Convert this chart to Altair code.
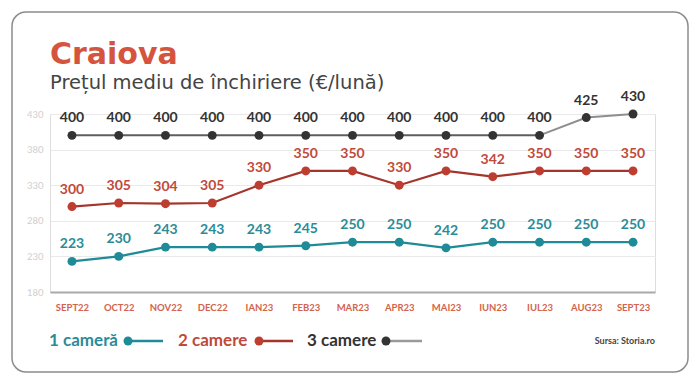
import altair as alt
import pandas as pd

# ---------------- data ----------------
months = ["SEPT22", "OCT22", "NOV22", "DEC22", "IAN23", "FEB23", "MAR23",
          "APR23", "MAI23", "IUN23", "IUL23", "AUG23", "SEPT23"]
one_room = [223, 230, 243, 243, 243, 245, 250, 250, 242, 250, 250, 250, 250]
two_rooms = [300, 305, 304, 305, 330, 350, 350, 330, 350, 342, 350, 350, 350]
three_rooms = [400, 400, 400, 400, 400, 400, 400, 400, 400, 400, 400, 425, 430]
series_names = ["1 cameră", "2 camere", "3 camere"]
y_ticks = [180, 230, 280, 330, 380, 430]

title_text = "Craiova"
subtitle_text = "Prețul mediu de închiriere (€/lună)"
source_text = "Sursa: Storia.ro"

# ---------------- style ----------------
W, H = 605, 178
FONT = "Lato"
point_colors = ["#1f8b97", "#bd3d30", "#333333"]
line_colors = ["#1f8b97", "#a5352a", "#5e5e5e"]
label_colors = ["#2a8c98", "#bf4a3b", "#333333"]
legend_line_colors = ["#1f8b97", "#a5352a", "#9a9a9a"]
legend_pos = [(-1, 78, 113), (128, 209, 243), (257, 336, 372)]
LEG_Y = 227

rows = []
for name, vals in zip(series_names, [one_room, two_rooms, three_rooms]):
    for i, (m, v) in enumerate(zip(months, vals)):
        rows.append({"series": name, "month": m, "idx": i, "value": v})
df = pd.DataFrame(rows)

x_enc = alt.X(
    "month:N", sort=months,
    scale=alt.Scale(type="point", padding=0.47),
    axis=alt.Axis(title=None, labelAngle=0, labelFont=FONT, labelFontSize=9.5,
                  labelFontWeight="bold", labelColor="#d4634c", labelPadding=10,
                  ticks=False, domain=True, domainColor="#a9a9a9", domainWidth=2,
                  grid=False),
)
y_enc = alt.Y(
    "value:Q",
    scale=alt.Scale(domain=[180, 430], nice=False, zero=False),
    axis=alt.Axis(title=None, values=y_ticks, grid=True, gridColor="#e9e9e9",
                  gridWidth=1, domain=False, ticks=False, labelColor="#cfcfcf",
                  labelFont=FONT, labelFontSize=9.5, labelPadding=7),
)

layers = []

# border frame (decoration)
layers.append(
    alt.Chart(pd.DataFrame({"a": [0]})).mark_rect(
        fillOpacity=0, stroke="#8c8c8c", strokeWidth=1.5, cornerRadius=14
    ).encode(x=alt.value(-38), x2=alt.value(638), y=alt.value(-102), y2=alt.value(258))
)

base = alt.Chart(df)
for k, name in enumerate(series_names):
    sub = base.transform_filter(alt.datum.series == name)
    if k == 2:
        layers.append(sub.transform_filter(alt.datum.idx <= 10).mark_line(
            color="#5e5e5e", strokeWidth=2).encode(x=x_enc, y=y_enc))
        layers.append(sub.transform_filter(alt.datum.idx >= 10).mark_line(
            color="#8e8e8e", strokeWidth=2).encode(x=x_enc, y=y_enc))
    else:
        layers.append(sub.mark_line(color=line_colors[k], strokeWidth=2.2).encode(x=x_enc, y=y_enc))
    layers.append(sub.mark_circle(color=point_colors[k], size=80, opacity=1).encode(x=x_enc, y=y_enc))
    layers.append(sub.mark_text(color=label_colors[k], dy=-17, fontSize=14, fontWeight="bold",
                                font=FONT, baseline="middle").encode(x=x_enc, y=y_enc, text="value:Q"))

# title & subtitle
layers.append(alt.Chart(pd.DataFrame({"t": [title_text]})).mark_text(
    align="left", baseline="alphabetic", font="DejaVu Sans", fontWeight="bold",
    fontSize=30, color="#d5543d").encode(text="t:N", x=alt.value(0), y=alt.value(-50)))
layers.append(alt.Chart(pd.DataFrame({"t": [subtitle_text]})).mark_text(
    align="left", baseline="alphabetic", font="DejaVu Sans", fontSize=19.5,
    color="#444444").encode(text="t:N", x=alt.value(0), y=alt.value(-25)))

# custom legend
for k, name in enumerate(series_names):
    tx, dx, ex = legend_pos[k]
    layers.append(alt.Chart(pd.DataFrame({"t": [name]})).mark_text(
        align="left", baseline="middle", font=FONT, fontWeight="bold", fontSize=17,
        color=label_colors[k]).encode(text="t:N", x=alt.value(tx), y=alt.value(LEG_Y)))
    layers.append(alt.Chart(pd.DataFrame({"t": [name]})).mark_rule(
        color=legend_line_colors[k], strokeWidth=2.5).encode(
        x=alt.value(dx), x2=alt.value(ex), y=alt.value(LEG_Y)))
    layers.append(alt.Chart(pd.DataFrame({"t": [name]})).mark_circle(
        color=point_colors[k], size=80, opacity=1).encode(x=alt.value(dx), y=alt.value(LEG_Y)))

# source
layers.append(alt.Chart(pd.DataFrame({"t": [source_text]})).mark_text(
    align="right", baseline="middle", font=FONT, fontSize=9, fontWeight="bold",
    color="#444444").encode(text="t:N", x=alt.value(W), y=alt.value(LEG_Y)))

chart = alt.layer(*layers).properties(
    width=W, height=H,
    autosize=alt.AutoSizeParams(type="none"),
    padding={"left": 42, "top": 106, "right": 37, "bottom": 85},
).configure_view(stroke=None).configure(background="white")

chart.save("out.html", embed_options={"renderer": "svg", "actions": False})
